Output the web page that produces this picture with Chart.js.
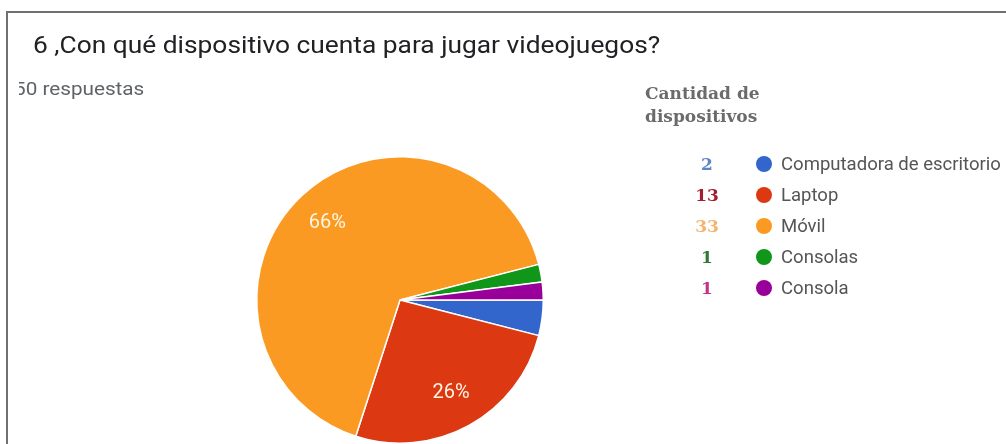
<!DOCTYPE html>
<html lang="es">
<head>
<meta charset="utf-8">
<title>Dispositivos para videojuegos</title>
<script src="https://cdn.jsdelivr.net/npm/chart.js@4"></script>
<style>
  html, body { margin: 0; padding: 0; background: #fff; overflow: hidden; }
  #wrap { position: relative; width: 1006px; height: 444px; }
</style>
</head>
<body>
<div id="wrap"><canvas id="graficoDispositivos"></canvas></div>
<script>
// Datos de la encuesta
const dispositivos = ['Computadora de escritorio', 'Laptop', 'Móvil', 'Consolas', 'Consola'];
const cantidades = [2, 13, 33, 1, 1];
const colores = ['#3366cc', '#dc3912', '#fb9a22', '#109618', '#990099'];
const coloresCantidad = ['#5b86c8', '#a51c30', '#f7b36c', '#2f7a35', '#c0358a'];
const titulo = '6 ,Con qué dispositivo cuenta para jugar videojuegos?';
const respuestas = '50 respuestas';
const tituloLeyenda = ['Cantidad de', 'dispositivos'];

const total = cantidades.reduce((a, b) => a + b, 0);

// texto con ancho estirado (la captura original está algo ensanchada)
function textoAncho(ctx, texto, x, y, escala) {
  ctx.save();
  ctx.translate(x, y);
  ctx.scale(escala, 1);
  ctx.fillText(texto, 0, 0);
  ctx.restore();
}

// Textos, marco y leyenda dibujados sobre el canvas
const decoracion = {
  id: 'decoracion',
  afterDraw(chart) {
    const ctx = chart.ctx;
    ctx.save();

    // marco gris
    ctx.strokeStyle = '#707070';
    ctx.lineWidth = 2;
    ctx.beginPath();
    ctx.moveTo(7, 444);
    ctx.lineTo(7, 12);
    ctx.lineTo(1006, 12);
    ctx.stroke();

    ctx.textBaseline = 'alphabetic';
    ctx.textAlign = 'left';
    ctx.fillStyle = '#202124';
    ctx.font = '23px Roboto';
    textoAncho(ctx, titulo, 33, 53, 1.145);

    // el recorte deja el "5" a medias, como en la captura
    ctx.save();
    ctx.beginPath();
    ctx.rect(19, 70, 200, 35);
    ctx.clip();
    ctx.fillStyle = '#5f6368';
    ctx.font = '18px Roboto';
    textoAncho(ctx, respuestas, 14, 95, 1.15);
    ctx.restore();

    ctx.fillStyle = '#6b6b6b';
    ctx.font = 'bold 17px "DejaVu Serif"';
    ctx.fillText(tituloLeyenda[0], 645, 99);
    ctx.fillText(tituloLeyenda[1], 645, 122);

    // filas de la leyenda
    dispositivos.forEach((nombre, i) => {
      const y = 164 + i * 31;
      ctx.textAlign = 'center';
      ctx.fillStyle = coloresCantidad[i];
      ctx.font = 'bold 17px "DejaVu Serif"';
      ctx.fillText(String(cantidades[i]), 707, y + 6);

      ctx.fillStyle = colores[i];
      ctx.beginPath();
      ctx.arc(764, y, 8, 0, Math.PI * 2);
      ctx.fill();

      ctx.textAlign = 'left';
      ctx.fillStyle = '#555555';
      ctx.font = '18px Roboto';
      textoAncho(ctx, nombre, 781, y + 6, 1.03);
    });

    // porcentajes dentro de las porciones grandes
    const meta = chart.getDatasetMeta(0);
    ctx.textAlign = 'center';
    ctx.textBaseline = 'middle';
    ctx.fillStyle = '#fff6e4';
    ctx.font = '20px Roboto';
    meta.data.forEach((arc, i) => {
      const pct = Math.round(cantidades[i] / total * 100);
      if (pct < 5) return;
      const p = arc.getProps(['x', 'y', 'startAngle', 'endAngle', 'outerRadius'], true);
      const mid = (p.startAngle + p.endAngle) / 2;
      const r = p.outerRadius * 0.74;
      ctx.fillText(pct + '%', p.x + Math.cos(mid) * r, p.y + Math.sin(mid) * r);
    });

    ctx.restore();
  }
};

const ctx = document.getElementById('graficoDispositivos').getContext('2d');
const grafico = new Chart(ctx, {
  type: 'pie',
  data: {
    labels: dispositivos,
    datasets: [{
      data: cantidades,
      backgroundColor: colores,
      borderColor: '#ffffff',
      borderWidth: 1.5
    }]
  },
  options: {
    responsive: true,
    maintainAspectRatio: false,
    animation: false,
    rotation: 90,
    layout: {
      padding: { top: 156, left: 256, right: 462, bottom: 0 }
    },
    plugins: {
      legend: { display: false },
      tooltip: { enabled: false }
    }
  },
  plugins: [decoracion]
});
</script>
</body>
</html>
